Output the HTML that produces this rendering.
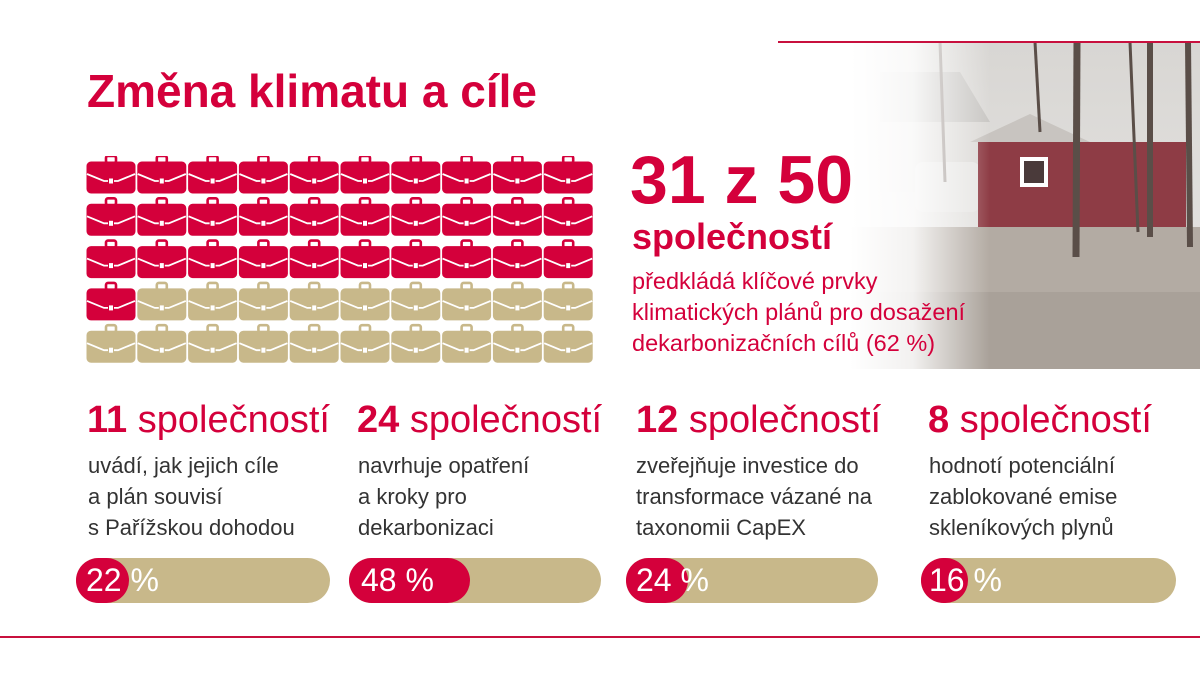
<!DOCTYPE html>
<html><head><meta charset="utf-8"><style>
body{margin:0;width:1200px;height:675px;background:#fff;position:relative;overflow:hidden;font-family:"Liberation Sans",Arial,sans-serif}
.a{position:absolute;white-space:nowrap}
.red{color:#d4003b}
.h{font-size:38px;color:#d4003b;top:399px}
.h b{font-weight:bold}
.t{font-size:22px;color:#333;line-height:31px;top:450px}
.bar{position:absolute;top:558px;height:45px;border-radius:23px;background:#c8b88a}
.fill{position:absolute;left:0;top:0;height:45px;border-radius:23px;background:#d4003b}
.pct{position:absolute;left:12px;top:4px;font-size:32px;color:#fff}
</style></head><body>
<svg class="a" style="left:850px;top:42px" width="350" height="327">
<defs><linearGradient id="f" x1="0" x2="1"><stop offset="0" stop-color="#fff"/><stop offset="0.18" stop-color="#fff" stop-opacity="0.85"/><stop offset="0.4" stop-color="#fff" stop-opacity="0"/></linearGradient>
<linearGradient id="s" x1="0" y1="0" x2="0" y2="1"><stop offset="0" stop-color="#d8d6d3"/><stop offset="1" stop-color="#e9e8e6"/></linearGradient></defs>
<rect width="350" height="327" fill="url(#s)"/>
<polygon points="30,30 110,30 140,80 30,80" fill="#c9c7c4"/>
<rect x="30" y="80" width="110" height="70" fill="#dcdad7"/>
<rect x="65" y="120" width="65" height="50" rx="8" fill="#e6e5e3"/>
<rect x="128" y="100" width="208" height="95" fill="#8e3c45"/>
<polygon points="120,100 180,72 240,100" fill="#c8c4c0"/>
<rect x="170" y="115" width="28" height="30" fill="#fff"/><rect x="174" y="119" width="20" height="22" fill="#4a3a3a"/>
<rect x="0" y="185" width="350" height="142" fill="#b3aba3"/>
<rect x="0" y="250" width="350" height="77" fill="#a9a199"/>
<g stroke="#5a4e48" fill="none">
<line x1="227" y1="0" x2="226" y2="215" stroke-width="7"/>
<line x1="300" y1="0" x2="300" y2="195" stroke-width="6"/>
<line x1="338" y1="0" x2="340" y2="205" stroke-width="6"/>
<line x1="185" y1="0" x2="190" y2="90" stroke-width="3"/>
<line x1="280" y1="0" x2="288" y2="190" stroke-width="3"/>
<line x1="90" y1="0" x2="95" y2="140" stroke-width="3" stroke="#9a918c"/>
</g>
<rect width="350" height="327" fill="url(#f)"/>
</svg>
<div class="a" style="left:778px;top:41px;width:422px;height:2px;background:#c8103e"></div>
<div class="a" style="left:0;top:636px;width:1200px;height:2px;background:#c8103e"></div>
<div class="a red" style="left:87px;top:64px;font-size:46px;font-weight:bold">Změna klimatu a cíle</div>
<svg class="a" style="left:86px;top:156px" width="512" height="215">
<defs><g id="b"><rect x="20" y="0" width="10" height="7" rx="2" fill="none" stroke-width="2.6" stroke="inherit"/><rect x="1" y="6" width="48" height="31" rx="4"/><path d="M1 18 L18 25 H32 L49 18" stroke="#fff" stroke-width="1.8" fill="none"/><rect x="22.5" y="22" width="5" height="6" fill="#fff"/></g></defs>
<g id="grid"></g>
</svg>
<script>
var g=document.getElementById('grid'),h='';
for(var r=0;r<5;r++)for(var c=0;c<10;c++){var i=r*10+c;var col=i<31?'#d4003b':'#c8b88a';
h+='<use href="#b" x="'+(c*50.8)+'" y="'+(r*42.3)+'" fill="'+col+'" stroke="'+col+'"/>';}
g.innerHTML=h;
</script>
<div class="a red" style="left:630px;top:141px;font-size:68px;font-weight:bold">31 z 50</div>
<div class="a red" style="left:632px;top:216px;font-size:36px;font-weight:bold">společností</div>
<div class="a red" style="left:632px;top:266px;font-size:23.5px;line-height:31px">předkládá klíčové prvky<br>klimatických plánů pro dosažení<br>dekarbonizačních cílů (62 %)</div>

<div class="a h" style="left:87px"><b>11</b> společností</div>
<div class="a h" style="left:357px"><b>24</b> společností</div>
<div class="a h" style="left:636px"><b>12</b> společností</div>
<div class="a h" style="left:928px"><b>8</b> společností</div>
<div class="a t" style="left:88px">uvádí, jak jejich cíle<br>a plán souvisí<br>s Pařížskou dohodou</div>
<div class="a t" style="left:358px">navrhuje opatření<br>a kroky pro<br>dekarbonizaci</div>
<div class="a t" style="left:636px">zveřejňuje investice do<br>transformace vázané na<br>taxonomii CapEX</div>
<div class="a t" style="left:929px">hodnotí potenciální<br>zablokované emise<br>skleníkových plynů</div>

<div class="bar" style="left:76px;width:254px"><div class="fill" style="width:53px"></div><div class="pct" style="left:10px">22 %</div></div>
<div class="bar" style="left:349px;width:252px"><div class="fill" style="width:121px"></div><div class="pct">48 %</div></div>
<div class="bar" style="left:626px;width:252px"><div class="fill" style="width:62px"></div><div class="pct" style="left:10px">24 %</div></div>
<div class="bar" style="left:921px;width:255px"><div class="fill" style="width:47px"></div><div class="pct" style="left:8px">16 %</div></div>
</body></html>
